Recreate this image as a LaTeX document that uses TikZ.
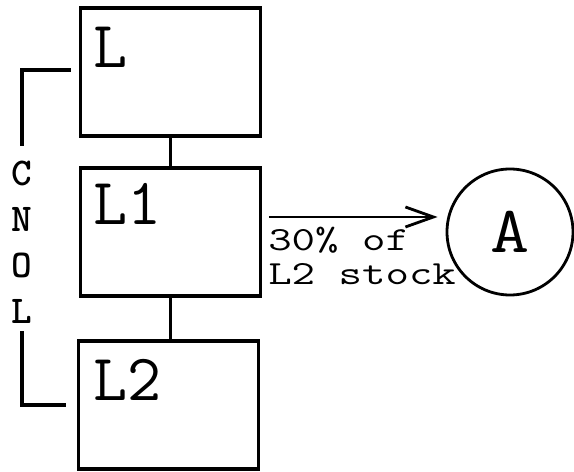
\documentclass[tikz,border=0pt]{standalone}
\usepackage{fontspec}
\usepackage{graphicx}
\usetikzlibrary{arrows.meta}

\tikzset{
	box/.style={draw, line width=2.3pt, minimum width=4.5cm, minimum height=3.2cm},
	link/.style={line width=2.3pt},
	tag/.style={font=\ttfamily\fontsize{47}{48}\selectfont, inner sep=0pt, anchor=north west},
	side/.style={font=\ttfamily\bfseries\fontsize{28}{30}\selectfont, inner sep=0pt},
	flow/.style={line width=2pt, -{Straight Barb[length=0.7cm, width=0.5cm, line width=2pt]}}
}

\begin{document}
\begin{tikzpicture}
	\useasboundingbox (0,0) rectangle (14.35,11.775);

	%boxes
	\node[box] (L) at (4.26,9.975) {};
	\node[box] (L1) at (4.26,5.975) {};
	\node[box] (L2) at (4.22,1.65) {};
	\node[tag] (Ltxt) at ([shift={(0.35,-0.5)}]L.north west) {L};
	\node[tag] (L1txt) at ([shift={(0.35,-0.42)}]L1.north west) {L1};
	\node[tag] (L2txt) at ([shift={(0.4,-0.48)}]L2.north west) {L2};
	\draw[link] (L.south) -- (L1.north);
	\draw[link] (L1.south) -- (L1.south |- L2.north);

	%circle
	\node[draw, circle, line width=2pt, minimum size=3.15cm, font=\ttfamily\fontsize{47}{48}\selectfont, inner sep=0pt] (A) at (12.75,5.975) {\scalebox{1.15}[1]{A}};

	%flow
	\draw[flow] ([shift={(0.17,0.375)}]L1.east) -- ([shift={(-0.2,0.375)}]A.west);
	\node[anchor=north west, align=left, inner sep=0pt, font=\ttfamily\fontsize{24}{24.1}\selectfont] (note) at (6.7,6.1)
		{\scalebox{1.35}[1]{30\% of}\\\scalebox{1.35}[1]{L2 stock}};

	%side label
	\foreach \ch [count=\i] in {C,N,O,L}
		\node[side] (s\i) at (0.55,7.45-1.15*\i+1.15) {\ch};
	\draw[link] ([shift={(-0.2,0.05)}]L.west) -| ([yshift=0.35cm]s1.north);
	\draw[link] ([yshift=-0.2cm]s4.south) |- ([xshift=-0.275cm]L2.west);
\end{tikzpicture}
\end{document}
